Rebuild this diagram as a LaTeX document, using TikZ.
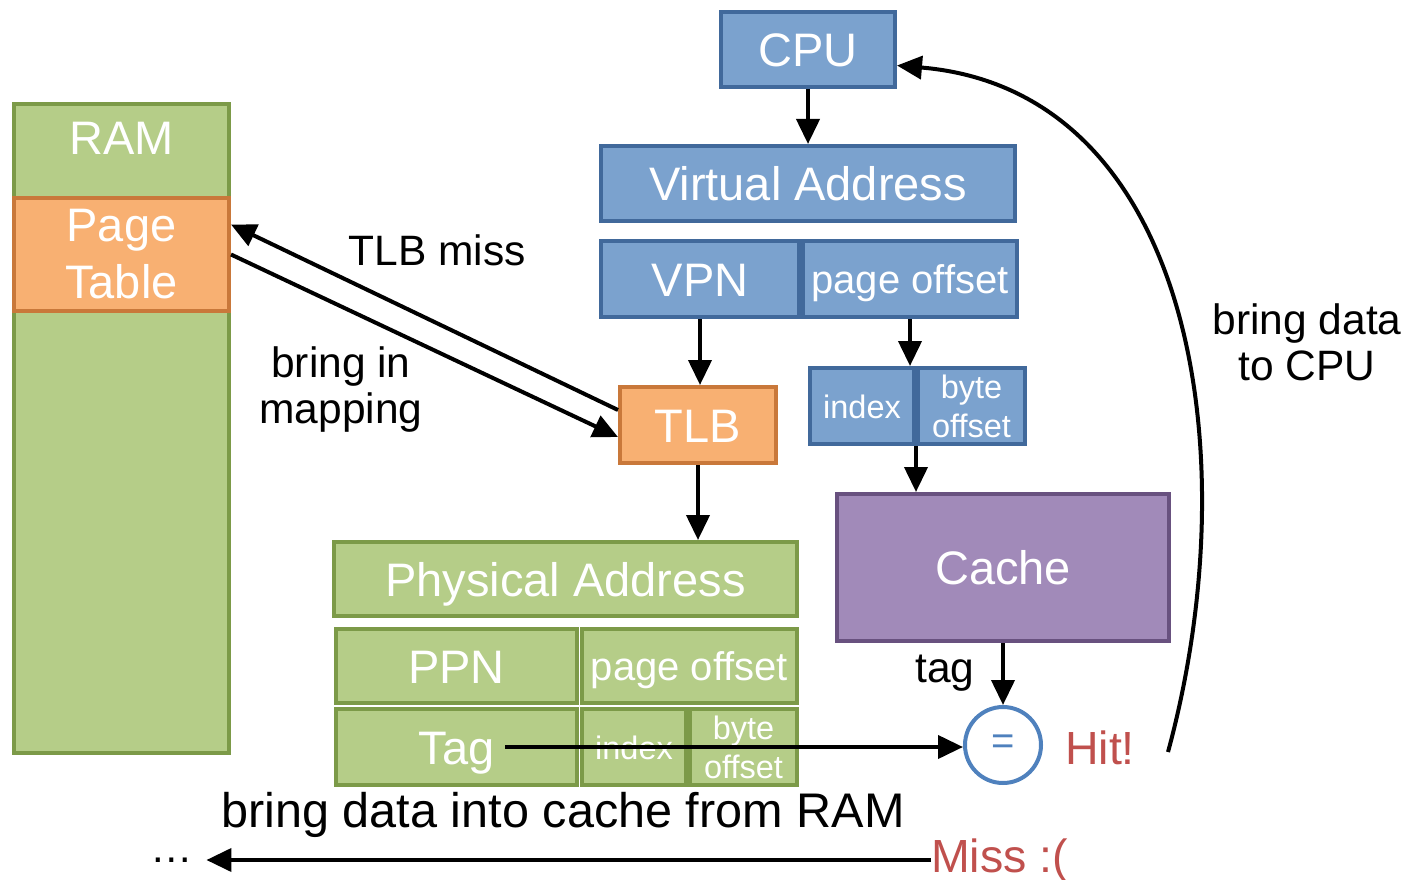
\documentclass[tikz,border=0pt]{standalone}
\usepackage{fontspec}
\setmainfont{Liberation Sans}
\usetikzlibrary{shapes.geometric, arrows.meta}
\definecolor{blueFill}{HTML}{7BA2CE}
\definecolor{blueLine}{HTML}{41699B}
\definecolor{greenFill}{HTML}{B5CD88}
\definecolor{greenLine}{HTML}{7C9A48}
\definecolor{orangeFill}{HTML}{F8B072}
\definecolor{orangeLine}{HTML}{C9783A}
\definecolor{purpleFill}{HTML}{A18AB9}
\definecolor{purpleLine}{HTML}{68517F}
\definecolor{eqBlue}{HTML}{4F81BD}
\definecolor{hitRed}{HTML}{C0504D}
\tikzstyle{baseBox} = [shape=rectangle, text=white, line width=4pt, align=center,
	inner sep=0pt, font=\fontsize{47}{57}\selectfont]
\tikzstyle{blueBox} = [baseBox, draw=blueLine, fill=blueFill]
\tikzstyle{greenBox} = [baseBox, draw=greenLine, fill=greenFill]
\tikzstyle{orangeBox} = [baseBox, draw=orangeLine, fill=orangeFill]
\tikzstyle{purpleBox} = [baseBox, draw=purpleLine, fill=purpleFill]
\tikzstyle{oneLine} = [text height=34pt, text depth=0pt]
\tikzstyle{midText} = [font=\fontsize{40}{48}\selectfont, text height=29pt, text depth=0pt]
\tikzstyle{smallText} = [font=\fontsize{32.5}{39}\selectfont]
\tikzstyle{labelText} = [text=black, align=center, font=\fontsize{42.5}{46}\selectfont]
\tikzstyle{redText} = [text=hitRed, font=\fontsize{46.5}{52}\selectfont]
\tikzstyle{normalArrow} = [line width=4pt, -{Triangle[length=25pt, width=23pt]}, draw=black]

\begin{document}
\begin{tikzpicture}[x=1pt, y=-1pt]
  \useasboundingbox (0,0) rectangle (1406,880);
  % RAM with page table
  \node (RAM) [greenBox, minimum width=215pt, minimum height=649pt] at (121.5,428.5) {};
  \node (RAMTXT) [text=white, oneLine, font=\fontsize{47}{57}\selectfont] at (121.5,137) {RAM};
  \node (PT) [orangeBox, minimum width=215pt, minimum height=113pt] at (121.5,254.5) {Page\\Table};

  % virtual side
  \node (CPU) [blueBox, oneLine, minimum width=174pt, minimum height=75pt] at (808,49.5) {CPU};
  \node (VA) [blueBox, oneLine, minimum width=414pt, minimum height=75pt] at (808,183.5) {Virtual Address};
  \node (VPN) [blueBox, oneLine, minimum width=198pt, minimum height=76pt] at (700,279) {VPN};
  \node (VOFF) [blueBox, midText, minimum width=214pt, minimum height=76pt] at (910,279) {page offset};
  \node (VIDX) [blueBox, smallText, text height=24pt, text depth=0pt, minimum width=104pt, minimum height=76pt] at (862,406) {index};
  \node (VBYTE) [blueBox, smallText, minimum width=107pt, minimum height=76pt] at (971.5,406) {byte\\offset};
  \node (TLB) [orangeBox, oneLine, minimum width=156pt, minimum height=76pt] at (698,425) {TLB};

  % physical side
  \node (PA) [greenBox, oneLine, minimum width=463pt, minimum height=74pt] at (565.5,579) {Physical Address};
  \node (PPN) [greenBox, oneLine, minimum width=241pt, minimum height=74pt] at (456.5,666) {PPN};
  \node (POFF) [greenBox, midText, minimum width=215pt, minimum height=74pt] at (689.5,666) {page offset};
  \node (TAG) [greenBox, oneLine, minimum width=241pt, minimum height=76pt] at (456.5,747) {Tag};
  \node (PIDX) [greenBox, smallText, text height=24pt, text depth=0pt, minimum width=104pt, minimum height=76pt] at (634,747) {index};
  \node (PBYTE) [greenBox, smallText, minimum width=107pt, minimum height=76pt] at (743.5,747) {byte\\offset};

  \node (CACHE) [purpleBox, oneLine, minimum width=332pt, minimum height=147pt] at (1003,567.5) {Cache};
  \node (EQ) [shape=circle, draw=eqBlue, line width=4pt, minimum size=76pt, inner sep=0pt,
    text=eqBlue, font=\fontsize{40}{48}\selectfont] at (1003,745) {=};

  % labels
  \node (MISSLBL) [labelText] at (437,250) {TLB miss};
  \node (MAPLBL) [labelText] at (341,390) {bring in\\mapping};
  \node (CPULBL) [labelText] at (1307,342) {bring data\\to CPU};
  \node (TAGLBL) [labelText] at (945,673) {tag};
  \node (HIT) [redText] at (1100,748) {Hit!};
  \node (FILL) [labelText, font=\fontsize{48.6}{56}\selectfont] at (563,815) {bring data into cache from RAM};
  \node (MISS) [redText, anchor=west, inner sep=0pt] at (931,860) {Miss :(};
  \node (DOTS) [labelText, inner xsep=13pt, inner ysep=0pt] at (172,860) {…};

  \coordinate (tagStart) at (505,747);
  \coordinate (hitEnd) at (1168,752);

  \draw [normalArrow] (CPU) -- (VA);
  \draw [normalArrow] (VPN.south) -- (VPN.south |- TLB.north);
  \draw [normalArrow] (VOFF.south) -- (VOFF.south |- VIDX.north);
  \draw [normalArrow] (VIDX.south east) -- (VIDX.south east |- CACHE.north);
  \draw [normalArrow] (TLB.south) -- (TLB.south |- PA.north);
  \draw [normalArrow] (CACHE) -- (EQ);
  \draw [normalArrow] (tagStart) -- (tagStart -| EQ.west);
  \draw [normalArrow] ([yshift=15pt]TLB.west) -- ([yshift=30pt]PT.east);
  \draw [normalArrow] (PT.east) -- ([yshift=-12pt]TLB.west);
  \draw [normalArrow] (hitEnd) .. controls (1250,450) and (1190,90) .. ([yshift=-16pt]CPU.east);
  \draw [normalArrow] (MISS.west) -- (DOTS.east |- MISS.west);

\end{tikzpicture}
\end{document}
